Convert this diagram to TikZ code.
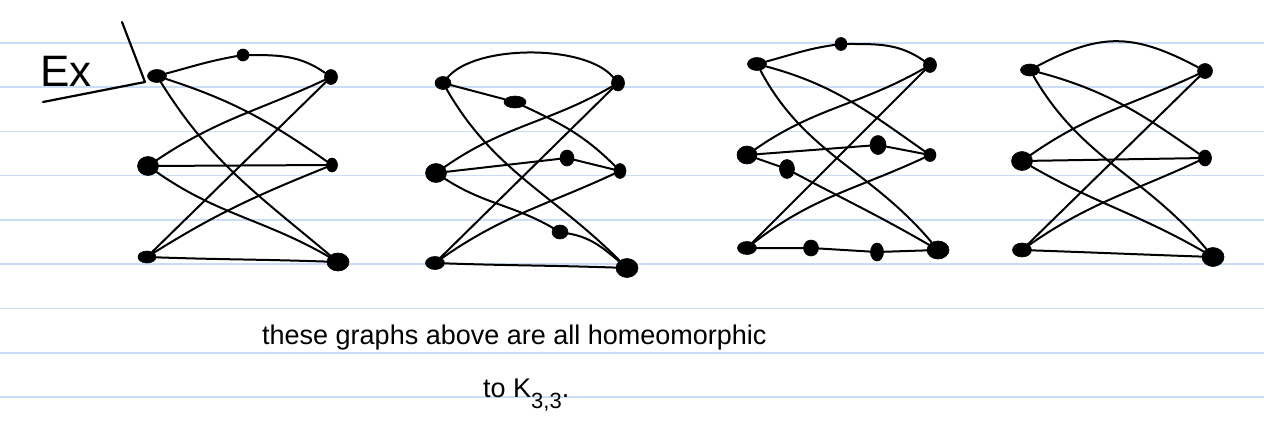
\documentclass[tikz,border=0pt]{standalone}
\usepackage{fontspec}
\setmainfont{Liberation Sans}
\usetikzlibrary{shapes.geometric}
\definecolor{ruled}{RGB}{203,220,247}
\tikzset{
  vtx/.style={ellipse, fill=black, draw=black, line width=0.6pt, inner sep=0pt, minimum width=16pt, minimum height=11pt},
  sz/.style 2 args={minimum width=#1pt, minimum height=#2pt},
  edge/.style={line width=2pt, line cap=round, line join=round},
  ruleline/.style={draw=ruled, line width=1.6pt},
  hand/.style={font=\fontsize{27}{30}\selectfont, inner sep=0pt},
}
\begin{document}
\begin{tikzpicture}[x=1pt,y=1pt]
\useasboundingbox[fill=white] (0,0) rectangle (1264,-434);
\foreach \k in {0,...,8} \draw[ruleline] (0,{-42.7-44.3*\k}) -- (1264,{-42.7-44.3*\k});

% Ex box
\node[font=\fontsize{44}{44}\selectfont, inner sep=0pt, anchor=base west] (ex) at (40,-86) {Ex};
\draw[edge, line width=2.2pt] (122,-22) -- (145,-82) -- (43,-102);

% Graph 1
\node[vtx, sz={19}{13}] (a1) at (157,-76) {};
\node[vtx, sz={13}{15}] (a2) at (331,-77) {};
\node[vtx, sz={21}{19}] (a3) at (148,-166) {};
\node[vtx, sz={11}{14}] (a4) at (332,-165) {};
\node[vtx, sz={18}{12}] (a5) at (147,-257) {};
\node[vtx, sz={22}{18}] (a6) at (338,-262) {};
\node[vtx, sz={12}{12}] (as) at (243,-55) {};
\draw[edge] (a1) to[out=15,in=190] (as) to[out=0,in=145] (a2);
\draw[edge] (a1) to[out=-18,in=145] (a4);
\draw[edge] (a1) to[out=-58,in=140] (a6);
\draw[edge] (a2) to[out=205,in=34] (a3);
\draw[edge] (a2) -- (a5);
\draw[edge] (a3) -- (a4);
\draw[edge] (a3) to[out=-35,in=150] (a6);
\draw[edge] (a5) to[out=32,in=202] (a4);
\draw[edge] (a5) to[out=-2,in=178] (a6);

% Graph 2
\node[vtx, sz={16}{13}] (b1) at (443,-83) {};
\node[vtx, sz={13}{16}] (b2) at (618,-83) {};
\node[vtx, sz={21}{19}] (b3) at (436,-173) {};
\node[vtx, sz={12}{15}] (b4) at (620,-171) {};
\node[vtx, sz={19}{13}] (b5) at (435,-263) {};
\node[vtx, sz={22}{19}] (b6) at (627,-268) {};
\node[vtx, sz={22}{12}] (bs1) at (515,-102) {};
\node[vtx, sz={14}{16}] (bs2) at (567,-158) {};
\node[vtx, sz={16}{14}] (bs3) at (560,-232) {};
\draw[edge] (b1) to[out=50,in=130,looseness=0.67] (b2);
\draw[edge] (b1) -- (bs1) to[out=-25,in=135] (b4);
\draw[edge] (b1) to[out=-60,in=135] (b6);
\draw[edge] (b2) to[out=210,in=35] (b3);
\draw[edge] (b2) -- (b5);
\draw[edge] (b3) -- (bs2) -- (b4);
\draw[edge] (b3) to[out=-33,in=150] (bs3) to[out=-10,in=140] (b6);
\draw[edge] (b5) to[out=35,in=205] (b4);
\draw[edge] (b5) to[out=-2,in=178] (b6);

% Graph 3
\node[vtx, sz={19}{13}] (c1) at (757,-64) {};
\node[vtx, sz={13}{15}] (c2) at (930,-65) {};
\node[vtx, sz={20}{18}] (c3) at (747,-155) {};
\node[vtx, sz={12}{13}] (c4) at (930,-155) {};
\node[vtx, sz={19}{13}] (c5) at (747,-248) {};
\node[vtx, sz={22}{18}] (c6) at (938,-250) {};
\node[vtx, sz={12}{13}] (cs1) at (841,-44) {};
\node[vtx, sz={16}{19}] (cs2) at (878,-145) {};
\node[vtx, sz={15}{19}] (cs3) at (787,-169) {};
\node[vtx, sz={15}{16}] (cs4) at (811,-248) {};
\node[vtx, sz={13}{18}] (cs5) at (877,-252) {};
\draw[edge] (c1) to[out=15,in=188] (cs1) to[out=0,in=145] (c2);
\draw[edge] (c1) to[out=-15,in=145] (c4);
\draw[edge] (c1) to[out=-62,in=130] (c6);
\draw[edge] (c2) to[out=210,in=35] (c3);
\draw[edge] (c2) -- (c5);
\draw[edge] (c3) -- (cs2) -- (c4);
\draw[edge] (c3) -- (cs3) to[out=-28,in=150] (c6);
\draw[edge] (c5) to[out=38,in=205] (c4);
\draw[edge] (c5) -- (cs4) -- (cs5) -- (c6);

% Graph 4
\node[vtx, sz={19}{12}] (d1) at (1030,-70) {};
\node[vtx, sz={15}{15}] (d2) at (1205,-71) {};
\node[vtx, sz={21}{19}] (d3) at (1022,-161) {};
\node[vtx, sz={13}{16}] (d4) at (1205,-158) {};
\node[vtx, sz={19}{14}] (d5) at (1022,-250) {};
\node[vtx, sz={22}{19}] (d6) at (1213,-257) {};
\draw[edge] (d1) to[out=28,in=152,looseness=1.15] (d2);
\draw[edge] (d1) to[out=-15,in=145] (d4);
\draw[edge] (d1) to[out=-60,in=130] (d6);
\draw[edge] (d2) to[out=205,in=35] (d3);
\draw[edge] (d2) -- (d5);
\draw[edge] (d3) -- (d4);
\draw[edge] (d3) to[out=-30,in=150] (d6);
\draw[edge] (d5) to[out=35,in=205] (d4);
\draw[edge] (d5) to[out=-2,in=178] (d6);

% Caption
\node[hand, anchor=base west] (t1) at (262,-344) {these graphs above are all homeomorphic};
\node[hand, anchor=base west] (t2) at (483,-397) {to K\raisebox{-11pt}{\fontsize{22}{22}\selectfont 3,3}.};
\end{tikzpicture}
\end{document}
